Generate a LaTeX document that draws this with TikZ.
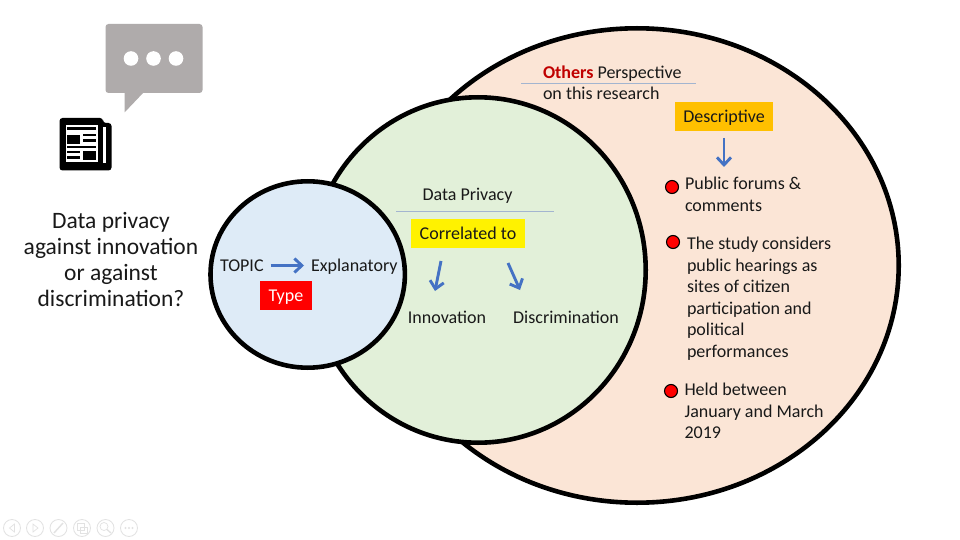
\documentclass[tikz,border=0pt]{standalone}
\usepackage{fontspec}
\setmainfont{Carlito}
\usetikzlibrary{arrows.meta,shapes.geometric}
\definecolor{peach}{HTML}{FBE5D6}
\definecolor{lgreen}{HTML}{E2F0D9}
\definecolor{lblue}{HTML}{DEEBF7}
\definecolor{arrowblue}{HTML}{4472C4}
\definecolor{rulecol}{HTML}{A3B5D0}
\definecolor{amber}{HTML}{FFC000}
\definecolor{darkred}{HTML}{C00000}
\definecolor{bubble}{HTML}{AFABAB}
\definecolor{navc}{HTML}{E2E2E2}
\tikzset{
 x=1pt,y=-1pt,
 every node/.style={inner sep=0pt,outer sep=0pt,text=black!90},
 ring/.style={draw=black,line width=4.6pt,ellipse},
 lab/.style={font=\fontsize{18}{21.6}\selectfont,align=left,anchor=north west},
 one/.style={font=\fontsize{18}{21.6}\selectfont,text height=15pt,text depth=3pt},
 tag/.style={one,minimum height=29pt,anchor=center},
 flow/.style={draw=arrowblue,line width=2.9pt,-{Straight Barb[length=7.5pt,width=14pt,line width=2.9pt]}},
 thinrule/.style={draw=rulecol,line width=0.9pt},
 bullet/.style={circle,draw=black,line width=1.1pt,fill=red,minimum size=13pt},
 navbtn/.style={circle,draw=navc,line width=0.8pt,minimum size=17pt},
 navmark/.style={draw=navc,line width=0.7pt},
 paper/.style={fill=white,draw=none},
 ink/.style={fill=black,draw=none}
}
\begin{document}
\begin{tikzpicture}
\useasboundingbox (0,0) rectangle (960,540);
\fill[white] (0,0) rectangle (960,540);

% circles
\node[ring,fill=peach,minimum width=523.4pt,minimum height=474.4pt] (outer) at (637,265.5) {};
\node[ring,fill=lgreen,minimum width=335.4pt,minimum height=345.4pt] (middle) at (478,270) {};
\node[ring,fill=lblue,minimum width=194.4pt,minimum height=186.4pt] (inner) at (307.7,274.5) {};

% speech bubble
\fill[bubble,rounded corners=3pt] (105.5,24) -- (202.5,24) -- (202.5,93) -- (105.5,93) -- cycle;
\fill[bubble] (124.5,92) -- (124.5,112.5) -- (144,92) -- cycle;
\fill[white] (131,58.5) circle (7.3);
\fill[white] (153.5,58.5) circle (7.3);
\fill[white] (176,58.5) circle (7.3);

% newspaper
\fill[ink,rounded corners=3pt] (59.5,118) -- (103,118) -- (103,123) -- (111.5,123) -- (111.5,170.5) -- (59.5,170.5) -- cycle;
\fill[paper] (66,125) rectangle (98,162);
\fill[paper] (103,127) rectangle (106,163);
\fill[ink] (67,135) rectangle (80,144);
\fill[ink] (67,127.5) rectangle (96,130);
\fill[ink] (83,134) rectangle (96,136.5);
\fill[ink] (83,139.5) rectangle (96,142);
\fill[ink] (67,146) rectangle (96,148);
\fill[ink] (67,151) rectangle (80,153);
\fill[ink] (67,156.5) rectangle (80,159);
\fill[ink] (83,151) rectangle (96,160);

% left question
\node[font=\fontsize{23.5}{25.8}\selectfont,align=center,anchor=center] (question) at (111,259.5)
 {Data privacy\\against innovation\\or against\\discrimination?};

% inner circle
\node[one,anchor=west] (topic) at (220,265.5) {TOPIC};
\node[one,anchor=west] (expl) at (311,265.5) {Explanatory};
\draw[flow] ([xshift=7pt]topic.east) -- ([xshift=-7pt]expl.west);
\node[tag,fill=red,text=white,minimum width=52pt] (typetag) at (286,295) {Type};

% middle circle
\node[one,anchor=center] (dp) at (467.5,194.5) {Data Privacy};
\coordinate (r1a) at (396,211);
\coordinate (r1b) at (554,211);
\draw[thinrule] (r1a) -- (r1b);
\node[tag,fill=yellow,minimum width=114pt] (corr) at (468,233.5) {Correlated to};
\coordinate (a1s) at (441,261);
\coordinate (a1e) at (435,291);
\coordinate (a2s) at (508,263);
\coordinate (a2e) at (520,290);
\draw[flow] (a1s) -- (a1e);
\draw[flow] (a2s) -- (a2e);
\node[one,anchor=center] (innov) at (447,317.5) {Innovation};
\node[one,anchor=center] (discr) at (566,317.5) {Discrimination};

% outer circle
\node[one,anchor=west] (others) at (543,72.5) {\textcolor{darkred}{\textbf{Others}} Perspective};
\coordinate (r2a) at (521,83);
\coordinate (r2b) at (696,83);
\draw[thinrule] (r2a) -- (r2b);
\node[one,anchor=west] (onthis) at (543,94) {on this research};
\node[tag,fill=amber,minimum width=98pt] (desc) at (724,116.5) {Descriptive};
\coordinate (a3s) at (724,138);
\coordinate (a3e) at (724,167);
\draw[flow] (a3s) -- (a3e);

\node[bullet] (b1) at (672,187) {};
\node[lab] (t1x) at (685,177) {Public forums \&\\comments};
\node[bullet] (b2) at (673,242) {};
\node[lab] (t2x) at (687,237) {The study considers\\public hearings as\\sites of citizen\\participation and\\political\\performances};
\node[bullet] (b3) at (671,391) {};
\node[lab] (t3x) at (684.5,383) {Held between\\January and March\\2019};

% slideshow controls
\foreach \n/\cx in {n1/12,n2/35,n3/58.5,n4/82,n5/105.5,n6/129}
  \node[navbtn] (\n) at (\cx,528) {};
\draw[navmark] (14.5,524) -- (9.5,528) -- (14.5,532) -- cycle;
\draw[navmark] (33,524) -- (38,528) -- (33,532) -- cycle;
\draw[navmark,line width=1.4pt] (54,533) -- (63,523);
\draw[navmark] (77.5,523.5) rectangle (84,530);
\draw[navmark] (80.5,527) rectangle (87,533);
\draw[navmark] (104,526.5) circle (4);
\draw[navmark,line width=1.3pt] (107,529.5) -- (111,533);
\foreach \dx in {125.5,129,132.5} \fill[navc] (\dx,528) circle (1.2);
\end{tikzpicture}
\end{document}
